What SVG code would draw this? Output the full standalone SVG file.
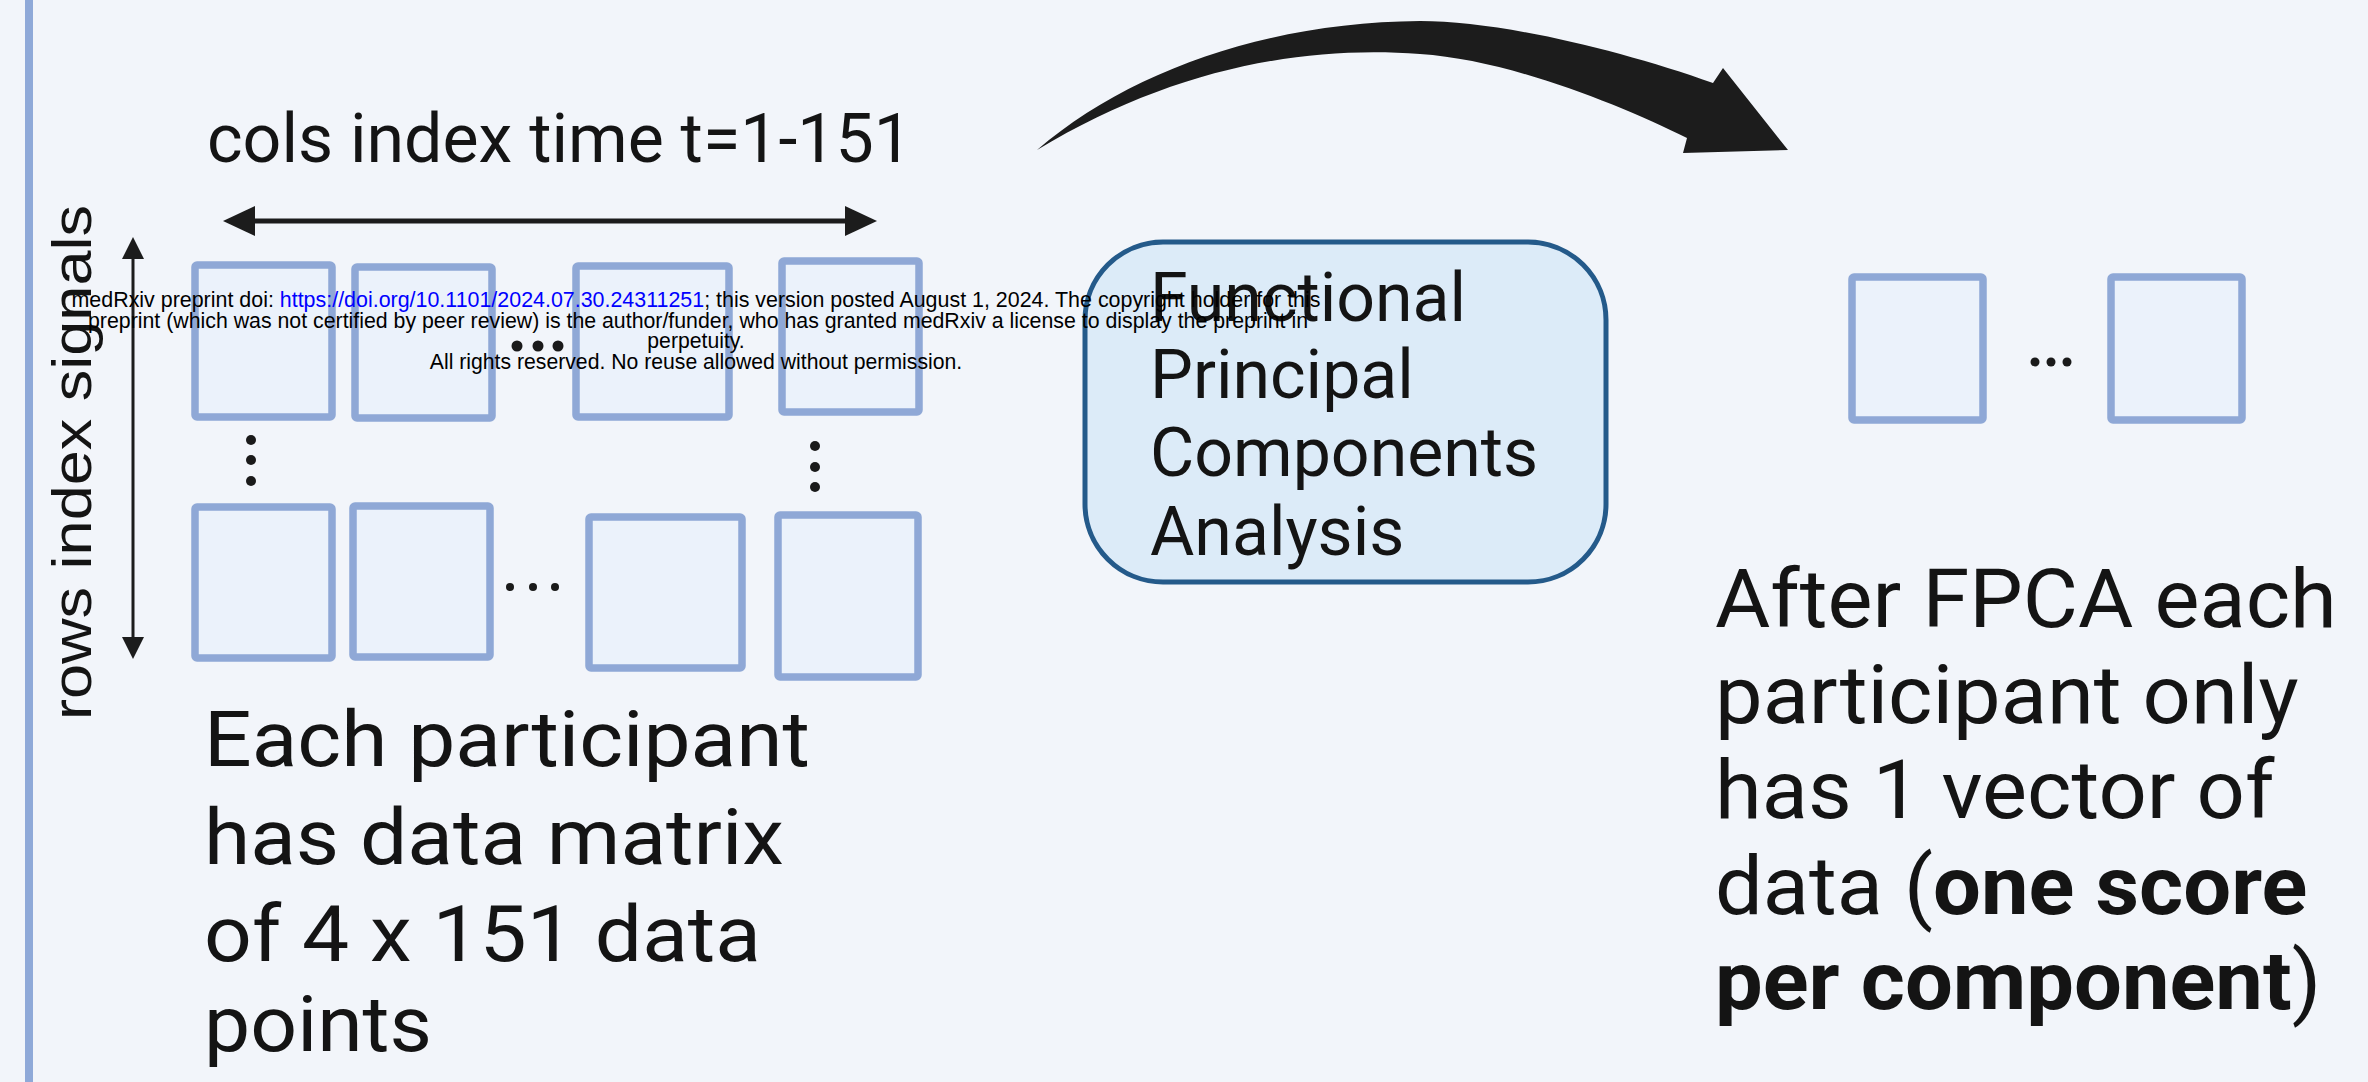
<svg xmlns="http://www.w3.org/2000/svg" width="2368" height="1082" viewBox="0 0 2368 1082">
  <style>
    .cell { fill: #ebf2fb; stroke: #8fa8d6; stroke-width: 7.5; }
    .dot { fill: #1a1a1a; }
    .main { font-family: Roboto, "Liberation Sans", sans-serif; fill: #141414; }
    .wm { font-family: "Liberation Sans", Arial, sans-serif; font-size: 21.2px; fill: #000; text-anchor: middle; }
    .axis { stroke: #1c1c1c; fill: none; }
  </style>
  <defs>
    <marker id="headBig" markerUnits="userSpaceOnUse" viewBox="0 0 32 30" markerWidth="32" markerHeight="30" refX="0" refY="15" orient="auto-start-reverse">
      <path d="M0,0 L32,15 L0,30 Z" fill="#1c1c1c"/>
    </marker>
    <marker id="headSmall" markerUnits="userSpaceOnUse" viewBox="0 0 22 22" markerWidth="22" markerHeight="22" refX="0" refY="11" orient="auto-start-reverse">
      <path d="M0,0 L22,11 L0,22 Z" fill="#1c1c1c"/>
    </marker>
  </defs>

  <rect x="0" y="0" width="2368" height="1082" fill="#f2f5fa"/>
  <rect id="side-bar" x="25" y="0" width="8" height="1082" fill="#8fa9d8"/>

  <g id="connectors">
    <line id="cols-arrow" class="axis" x1="255" y1="221" x2="845" y2="221" stroke-width="5" marker-start="url(#headBig)" marker-end="url(#headBig)"/>
    <line id="rows-arrow" class="axis" x1="133" y1="259" x2="133" y2="637" stroke-width="3" marker-start="url(#headSmall)" marker-end="url(#headSmall)"/>
    <path id="fpca-arrow" fill="#1c1c1c" d="M1037,150 C1130,70 1270,22 1420,21 C1500,21 1620,50 1713,83 L1723,68 L1788,150 L1683,153 L1687,138 C1620,105 1510,60 1420,54 C1300,45 1170,70 1037,150 Z"/>
  </g>

  <g id="axis-labels">
    <text id="cols-label" class="main" x="207" y="162" font-size="68" textLength="705" lengthAdjust="spacingAndGlyphs">cols index time t=1-151</text>
    <text id="rows-label" font-family="'Liberation Sans', Arial, sans-serif" font-size="55" fill="#141414" transform="translate(91,720) rotate(-90)" textLength="515" lengthAdjust="spacingAndGlyphs">rows index signals</text>
  </g>

  <g id="input-matrix">
    <rect class="cell" x="195" y="265" width="137" height="152" rx="2"/>
    <rect class="cell" x="355" y="267" width="137" height="151" rx="2"/>
    <rect class="cell" x="576" y="266" width="153" height="151" rx="2"/>
    <rect class="cell" x="782" y="261" width="137" height="151" rx="2"/>
    <rect class="cell" x="195" y="507" width="137" height="151" rx="2"/>
    <rect class="cell" x="353" y="506" width="137" height="151" rx="2"/>
    <rect class="cell" x="589" y="517" width="153" height="151" rx="2"/>
    <rect class="cell" x="778" y="515" width="140" height="162" rx="2"/>
    <circle class="dot" cx="517" cy="346" r="5.5"/>
    <circle class="dot" cx="538" cy="346" r="5.5"/>
    <circle class="dot" cx="558" cy="346" r="5.5"/>
    <circle class="dot" cx="251" cy="440" r="5"/>
    <circle class="dot" cx="251" cy="460" r="5"/>
    <circle class="dot" cx="251" cy="481" r="5"/>
    <circle class="dot" cx="815" cy="446" r="5"/>
    <circle class="dot" cx="815" cy="467" r="5"/>
    <circle class="dot" cx="815" cy="487" r="5"/>
    <circle class="dot" cx="510" cy="587" r="4"/>
    <circle class="dot" cx="533" cy="587" r="4"/>
    <circle class="dot" cx="555" cy="587" r="4"/>
  </g>

  <g id="input-caption">
    <text class="main" font-size="78">
      <tspan x="204" y="766" textLength="606" lengthAdjust="spacingAndGlyphs">Each participant</tspan>
      <tspan x="204" y="864" textLength="580" lengthAdjust="spacingAndGlyphs">has data matrix</tspan>
      <tspan x="204" y="961" textLength="557" lengthAdjust="spacingAndGlyphs">of 4 x 151 data</tspan>
      <tspan x="204" y="1051" textLength="228" lengthAdjust="spacingAndGlyphs">points</tspan>
    </text>
  </g>

  <g id="fpca-node">
    <rect x="1085" y="242" width="521" height="340" rx="78" fill="#dcebf8" stroke="#245a8a" stroke-width="5"/>
    <text class="main" font-size="68">
      <tspan x="1150" y="321">Functional</tspan>
      <tspan x="1150" y="398">Principal</tspan>
      <tspan x="1150" y="476">Components</tspan>
      <tspan x="1150" y="555">Analysis</tspan>
    </text>
  </g>

  <g id="output-vector">
    <rect class="cell" x="1852" y="277" width="131" height="143" rx="2"/>
    <rect class="cell" x="2111" y="277" width="131" height="143" rx="2"/>
    <circle class="dot" cx="2035" cy="362" r="4.5"/>
    <circle class="dot" cx="2051" cy="362" r="4.5"/>
    <circle class="dot" cx="2067" cy="362" r="4.5"/>
  </g>

  <g id="output-caption" transform="translate(1715,0) scale(1.035,1) translate(-1715,0)">
    <text class="main" font-size="82">
      <tspan x="1715" y="627">After FPCA each</tspan>
      <tspan x="1715" y="723">participant only</tspan>
      <tspan x="1715" y="818">has 1 vector of</tspan>
      <tspan x="1715" y="914">data (<tspan font-weight="bold">one score</tspan></tspan>
      <tspan x="1715" y="1009" font-weight="bold">per component</tspan><tspan>)</tspan>
    </text>
  </g>

  <g id="watermark">
    <text class="wm" x="696" y="307" textLength="1249" lengthAdjust="spacingAndGlyphs">medRxiv preprint doi: <tspan fill="#0000ff">https://doi.org/10.1101/2024.07.30.24311251</tspan>; this version posted August 1, 2024. The copyright holder for this</text>
    <text class="wm" x="698" y="328" textLength="1220" lengthAdjust="spacingAndGlyphs">preprint (which was not certified by peer review) is the author/funder, who has granted medRxiv a license to display the preprint in</text>
    <text class="wm" x="696" y="348">perpetuity.</text>
    <text class="wm" x="696" y="369">All rights reserved. No reuse allowed without permission.</text>
  </g>
</svg>
